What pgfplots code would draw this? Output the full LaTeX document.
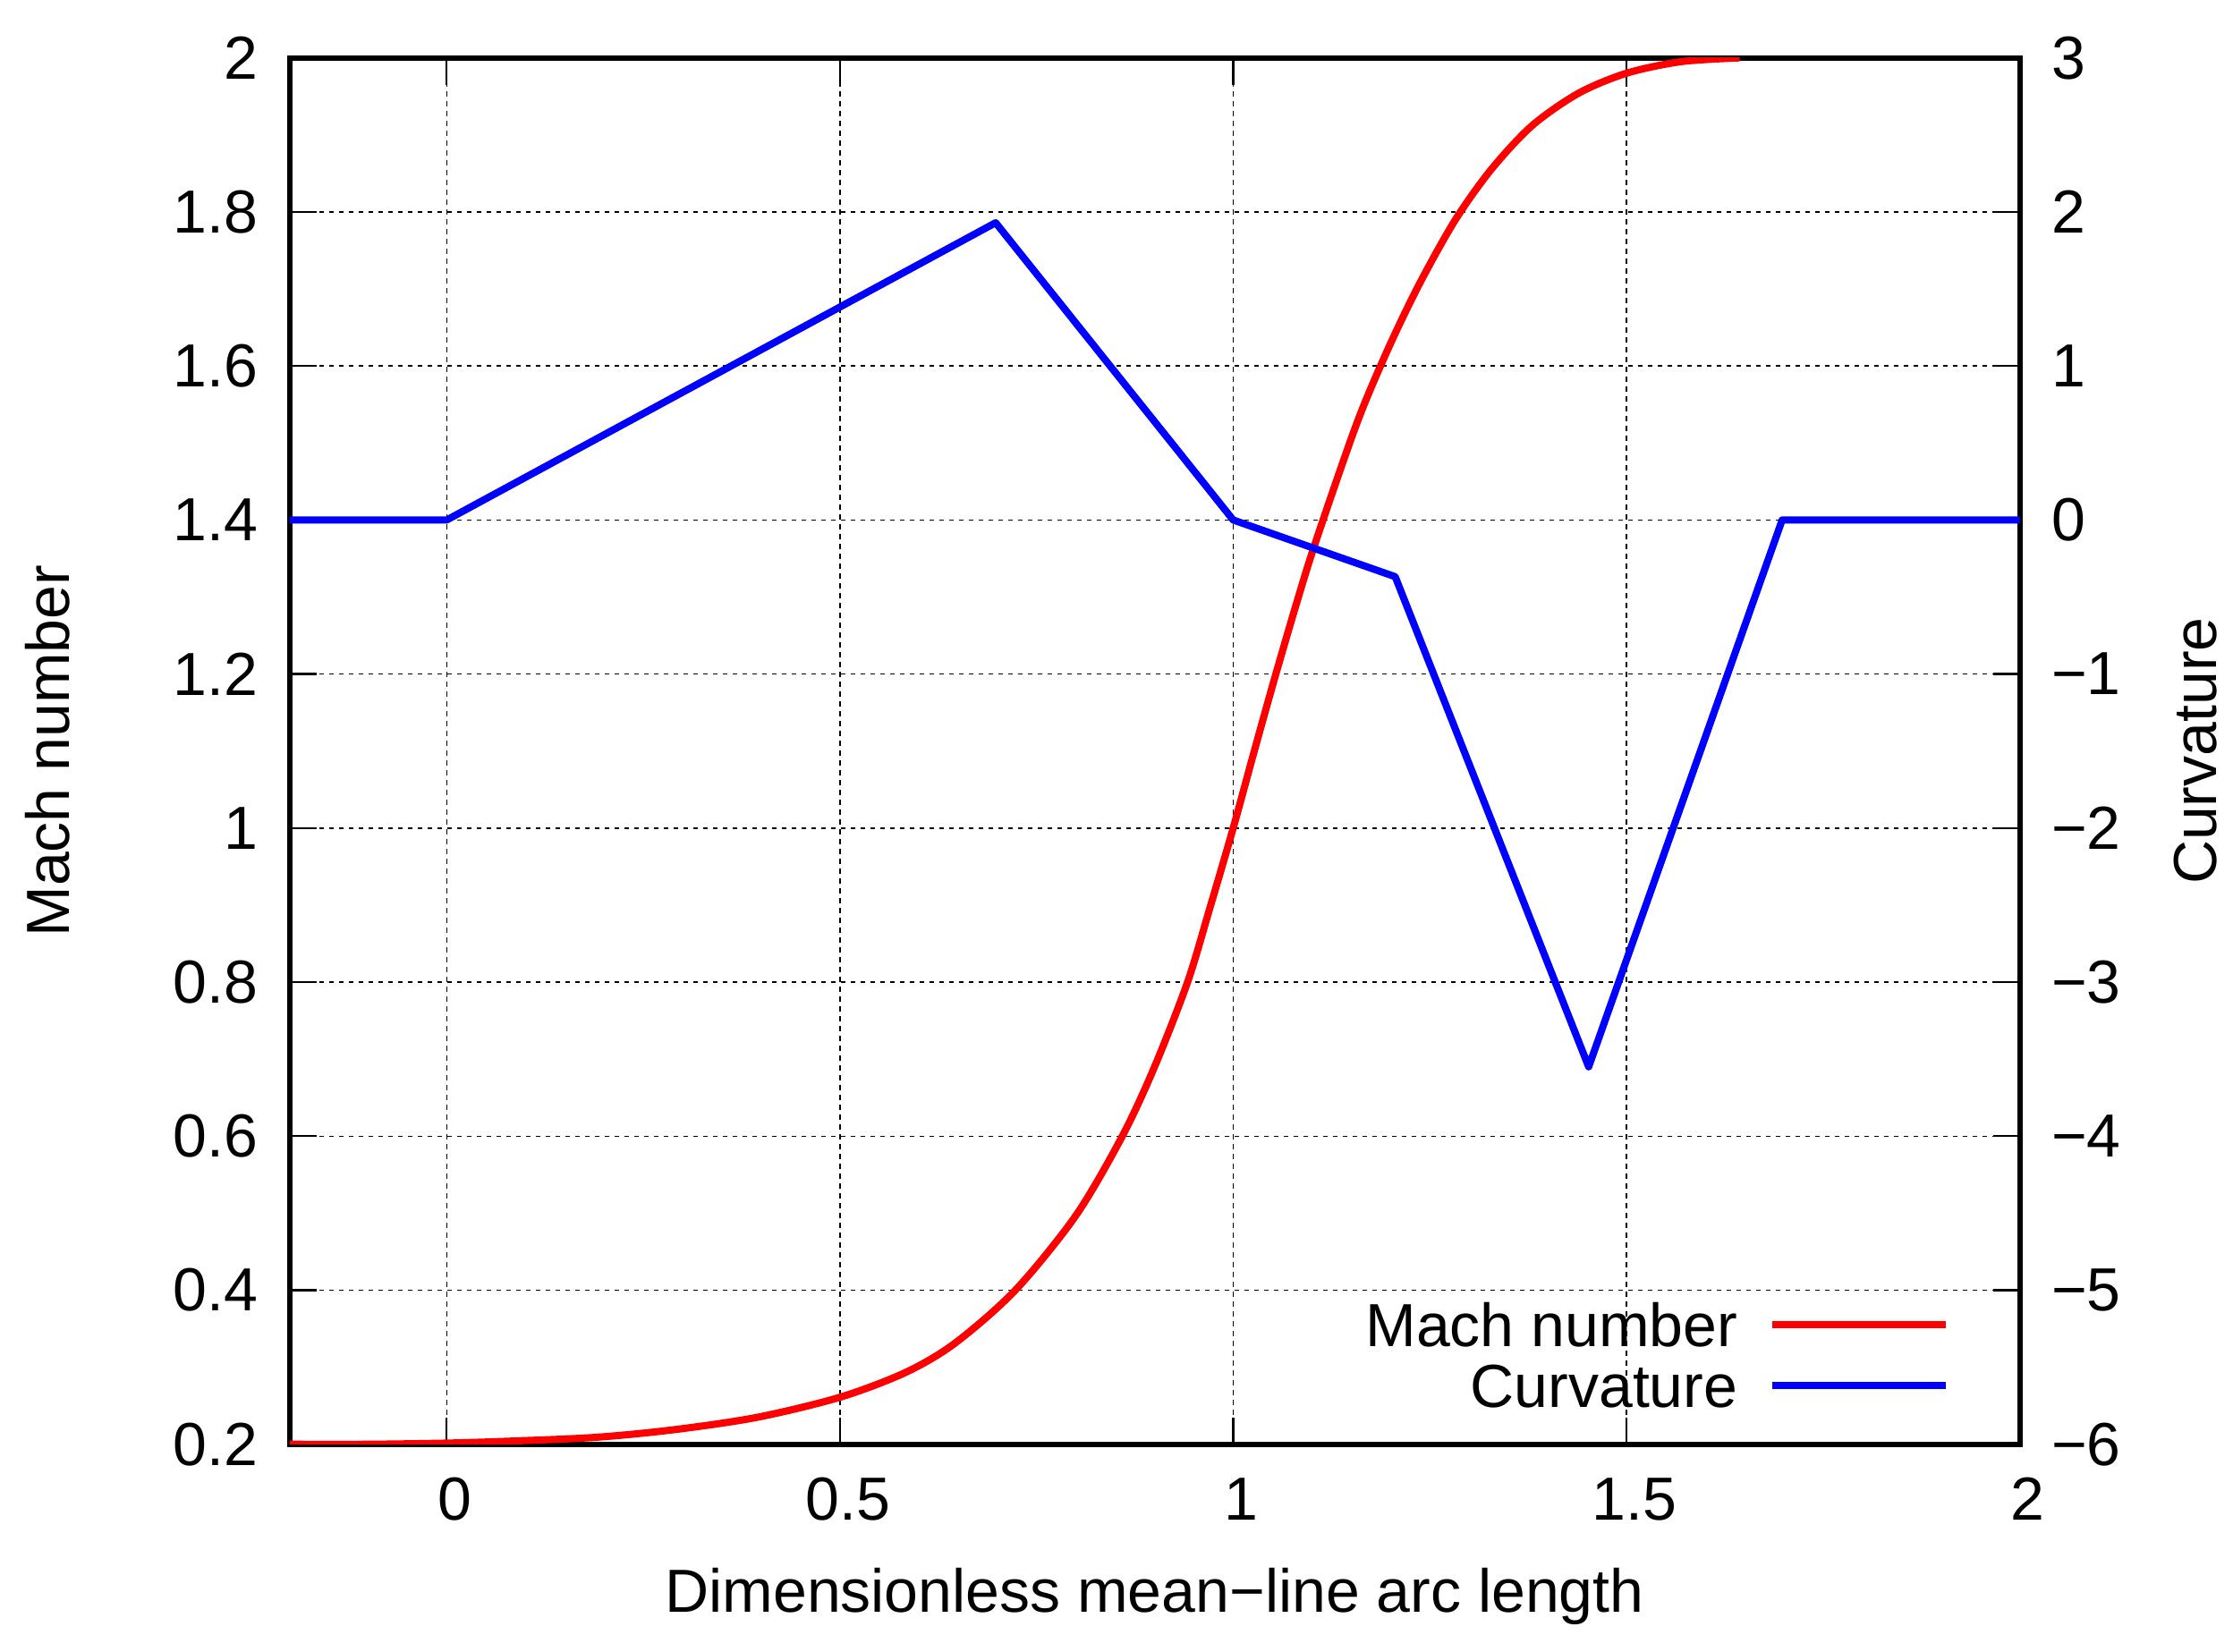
\documentclass[border=0pt]{standalone}
\usepackage{fontspec}
\setmainfont{Liberation Sans}
\usepackage{pgfplots}
\pgfplotsset{compat=1.18}
\pgfplotstableread{
x M
-0.2 0.2
-0.1 0.2
0 0.2015
0.08 0.204
0.19 0.209
0.29 0.219
0.395 0.235
0.5 0.261
0.583 0.293
0.646 0.331
0.723 0.4
0.8 0.497
0.859 0.6
0.9 0.69
0.942 0.8
0.97 0.895
1.0 1.0
1.026 1.097
1.052 1.192
1.08 1.290
1.105 1.372
1.157 1.525
1.196 1.620
1.236 1.705
1.282 1.789
1.328 1.855
1.38 1.912
1.439 1.954
1.5 1.980
1.569 1.995
1.644 2.0
}\machdata
\pgfplotstableread{
x C
-0.2 0
0 0
0.698 1.93
1.0 0
1.206 -0.368
1.452 -3.55
1.698 0
2 0
}\curvdata
\newcommand{\fs}{\fontsize{13.6pt}{16pt}\selectfont}
\begin{document}
\begin{tikzpicture}[font=\fs]
\pgfplotsset{
  myaxis/.style={
    at={(64.7pt,46.26pt)}, anchor=south west,
    scale only axis, width=386.8pt, height=310pt,
    xmin=-0.2, xmax=2,
    tick align=inside, major tick length=6pt,
    tick style={line width=0.45pt, black},
    axis line style={line width=1.2pt, black},
    tick label style={font=\fs},
    label style={font=\fs},
  }
}
\begin{axis}[myaxis,
  ymin=0.2, ymax=2,
  xtick={0,0.5,1,1.5,2}, xticklabels={0,0.5,1,1.5,2},
  ytick={0.2,0.4,0.6,0.8,1,1.2,1.4,1.6,1.8,2},
  yticklabels={0.2,0.4,0.6,0.8,1,1.2,1.4,1.6,1.8,2},
  xtick pos=both, ytick pos=left,
  grid=major,
  major grid style={line width=0.3pt, black, dash pattern=on 1.1pt off 1.1pt},
  xticklabel style={yshift=-4pt, xshift=1.8pt},
  yticklabel style={xshift=-3.6pt},
  xlabel={Dimensionless mean−line arc length},
  ylabel={Mach number},
  every axis x label/.style={at={(axis description cs:0.5,-0.1099)}, anchor=center, font=\fs},
  every axis y label/.style={at={(axis description cs:-0.1396,0.5)}, anchor=center, rotate=90, font=\fs},
  legend plot pos=right,
  legend cell align=right,
  legend image code/.code={\draw[#1] (0pt,0pt) -- (38.8pt,0pt);},
  legend style={at={(axis description cs:0.9598,0.0643)}, anchor=east,
    draw=none, fill=none, inner sep=0pt, row sep=0pt, column sep=6.9pt,
    font=\fs,
    nodes={inner sep=0pt, text height=11.7pt, text depth=1.9pt}},
]
\addplot[red, line width=1.6pt, line join=round, smooth, tension=0.5] table[x=x, y=M] {\machdata};
\addlegendentry{Mach number}
\addlegendimage{blue, line width=1.6pt}
\addlegendentry{Curvature}
\end{axis}
\begin{axis}[myaxis,
  ymin=-6, ymax=3,
  axis y line*=right,
  hide x axis,
  ytick={-6,-5,-4,-3,-2,-1,0,1,2,3},
  yticklabels={−6,−5,−4,−3,−2,−1,0,1,2,3},
  yticklabel style={xshift=3.6pt},
  ylabel={Curvature},
  every axis y label/.style={at={(axis description cs:1.1016,0.5)}, anchor=center, rotate=90, font=\fs},
]
\addplot[blue, line width=1.6pt, line join=round] table[x=x, y=C] {\curvdata};
\end{axis}
\pgfresetboundingbox
\useasboundingbox (0,0) rectangle (499.2pt,369.2pt);
\end{tikzpicture}
\end{document}
